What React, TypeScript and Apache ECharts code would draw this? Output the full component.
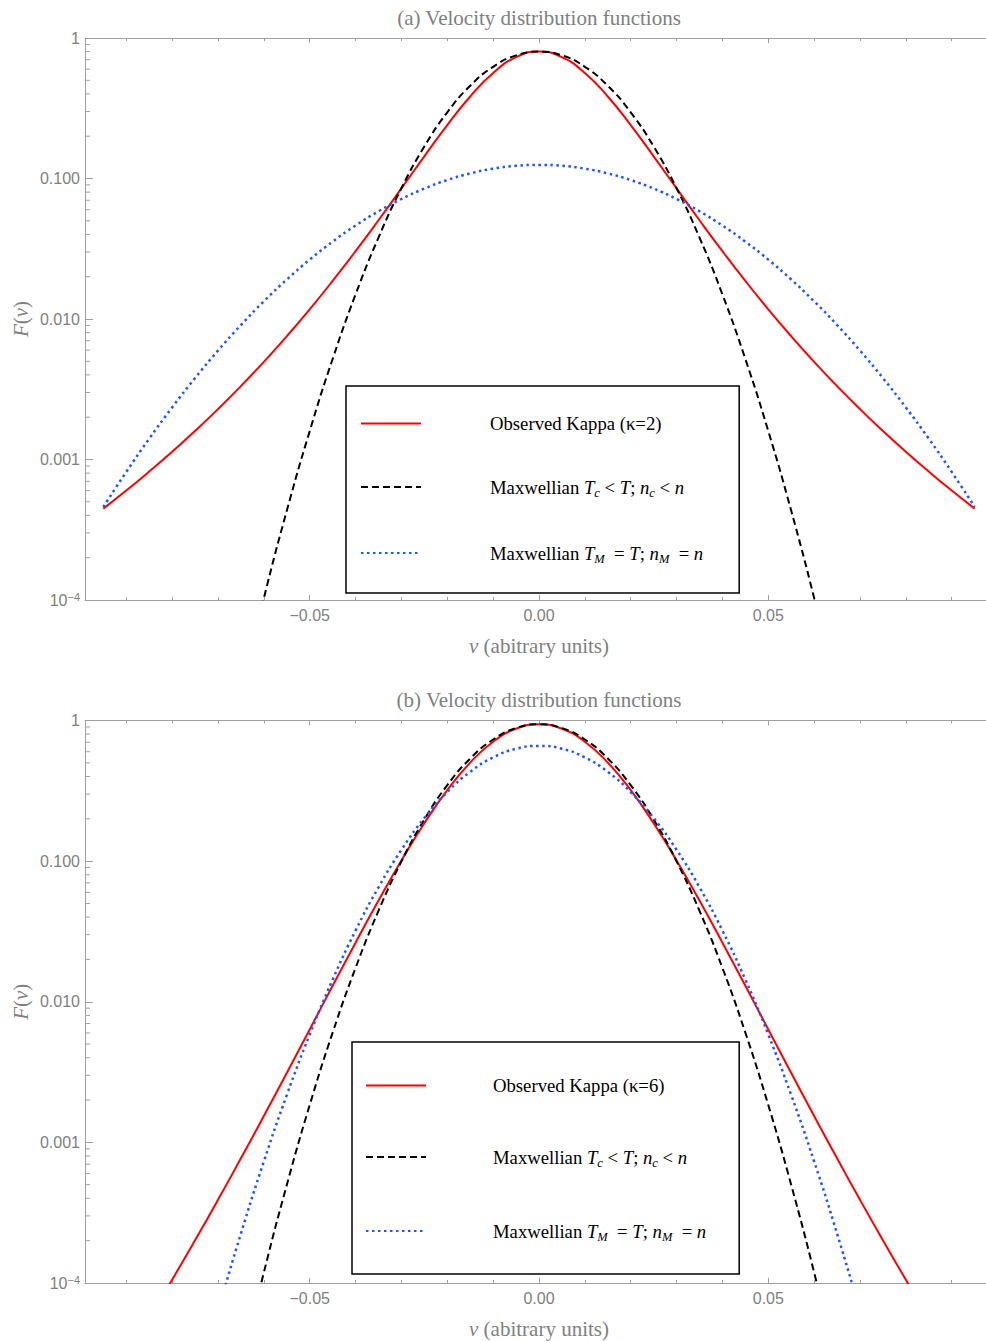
import React, { useEffect, useRef } from 'react';
import * as echarts from 'echarts';

// ---------- axis ranges & ticks ----------
const X_MIN = -0.099;
const X_MAX = 0.099;
const X_TICK_VALUES = [-0.05, 0, 0.05];
const X_TICK_LABELS = ['\u22120.05', '0.00', '0.05'];
const Y_MIN = 1e-4;
const Y_MAX = 1;
const Y_TICK_VALUES = [1e-4, 1e-3, 1e-2, 1e-1, 1];
const Y_TICK_LABELS = ['{m|10}{p|\u22124}', '0.001', '0.010', '0.100', '1'];
const Y_MINOR_MULTIPLIERS = [2, 3, 4, 5, 6, 7, 8, 9];
const Y_MINOR_DECADES = [1e-4, 1e-3, 1e-2, 1e-1];

// ---------- titles / names ----------
const TITLE_A = '(a) Velocity distribution functions';
const TITLE_B = '(b) Velocity distribution functions';
const X_NAME = '{i|v} (abitrary units)';
const Y_NAME = '{i|F}({i|v})';
const N_K2 = 'Observed Kappa (\u03ba=2)';
const N_K6 = 'Observed Kappa (\u03ba=6)';
const N_MC = 'Maxwellian Tc < T; nc < n';
const N_MM = 'Maxwellian TM = T; nM = n';

// ---------- panel (a) data ----------
const V_A_WIDE = [-0.095, -0.09, -0.085, -0.08, -0.075, -0.07, -0.065, -0.06, -0.055, -0.05, -0.045, -0.04, -0.035, -0.03, -0.025, -0.02, -0.015, -0.01, -0.005, 0,
  0.005, 0.01, 0.015, 0.02, 0.025, 0.03, 0.035, 0.04, 0.045, 0.05, 0.055, 0.06, 0.065, 0.07, 0.075, 0.08, 0.085, 0.09, 0.095];
const KAPPA_A = [0.000447, 0.000601, 0.00082, 0.001134, 0.001596, 0.002284, 0.003331, 0.004957, 0.007538, 0.01172, 0.01866, 0.03037, 0.05045, 0.08503, 0.1439, 0.24, 0.3835, 0.5642, 0.7303, 0.8,
  0.7303, 0.5642, 0.3835, 0.24, 0.1439, 0.08503, 0.05045, 0.03037, 0.01866, 0.01172, 0.007538, 0.004957, 0.003331, 0.002284, 0.001596, 0.001134, 0.00082, 0.000601, 0.000447];
const MAXW_M_A = [0.00046, 0.000816, 0.001406, 0.002347, 0.003798, 0.005958, 0.00906, 0.01336, 0.0191, 0.02646, 0.03554, 0.04627, 0.05841, 0.07147, 0.08479, 0.0975, 0.1087, 0.1175, 0.1231, 0.125,
  0.1231, 0.1175, 0.1087, 0.0975, 0.08479, 0.07147, 0.05841, 0.04627, 0.03554, 0.02646, 0.0191, 0.01336, 0.00906, 0.005958, 0.003798, 0.002347, 0.001406, 0.000816, 0.00046];
const V_A_CORE = [-0.065, -0.06, -0.055, -0.05, -0.045, -0.04, -0.035, -0.03, -0.025, -0.02, -0.015, -0.01, -0.005, 0,
  0.005, 0.01, 0.015, 0.02, 0.025, 0.03, 0.035, 0.04, 0.045, 0.05, 0.055, 0.06, 0.065];
const MAXW_C_A = [0.0000218, 0.0001032, 0.0004315, 0.001593, 0.005192, 0.01495, 0.03799, 0.08527, 0.169, 0.2958, 0.4571, 0.6238, 0.7518, 0.8,
  0.7518, 0.6238, 0.4571, 0.2958, 0.169, 0.08527, 0.03799, 0.01495, 0.005192, 0.001593, 0.0004315, 0.0001032, 0.0000218];

// ---------- panel (b) data ----------
const V_B_KAPPA = [-0.085, -0.08, -0.075, -0.07, -0.065, -0.06, -0.055, -0.05, -0.045, -0.04, -0.035, -0.03, -0.025, -0.02, -0.015, -0.01, -0.005, 0,
  0.005, 0.01, 0.015, 0.02, 0.025, 0.03, 0.035, 0.04, 0.045, 0.05, 0.055, 0.06, 0.065, 0.07, 0.075, 0.08, 0.085];
const KAPPA_B = [0.0000563, 0.0001055, 0.0002012, 0.0003903, 0.0007698, 0.00154, 0.003118, 0.006356, 0.01298, 0.02631, 0.05241, 0.1012, 0.186, 0.3195, 0.502, 0.7063, 0.8742, 0.94,
  0.8742, 0.7063, 0.502, 0.3195, 0.186, 0.1012, 0.05241, 0.02631, 0.01298, 0.006356, 0.003118, 0.00154, 0.0007698, 0.0003903, 0.0002012, 0.0001055, 0.0000563];
const V_B_MAXW_M = [-0.075, -0.07, -0.065, -0.06, -0.055, -0.05, -0.045, -0.04, -0.035, -0.03, -0.025, -0.02, -0.015, -0.01, -0.005, 0,
  0.005, 0.01, 0.015, 0.02, 0.025, 0.03, 0.035, 0.04, 0.045, 0.05, 0.055, 0.06, 0.065, 0.07, 0.075];
const MAXW_M_B = [0.0000159, 0.0000626, 0.0002243, 0.0007317, 0.002168, 0.005849, 0.01436, 0.03206, 0.06513, 0.1204, 0.2025, 0.3099, 0.4314, 0.5463, 0.6295, 0.66,
  0.6295, 0.5463, 0.4314, 0.3099, 0.2025, 0.1204, 0.06513, 0.03206, 0.01436, 0.005849, 0.002168, 0.0007317, 0.0002243, 0.0000626, 0.0000159];
const V_B_CORE = [-0.065, -0.06, -0.055, -0.05, -0.045, -0.04, -0.035, -0.03, -0.025, -0.02, -0.015, -0.01, -0.005, 0,
  0.005, 0.01, 0.015, 0.02, 0.025, 0.03, 0.035, 0.04, 0.045, 0.05, 0.055, 0.06, 0.065];
const MAXW_C_B = [0.000025, 0.0001186, 0.0004977, 0.001843, 0.006026, 0.01739, 0.0443, 0.09962, 0.1978, 0.3467, 0.5364, 0.7325, 0.8832, 0.94,
  0.8832, 0.7325, 0.5364, 0.3467, 0.1978, 0.09962, 0.0443, 0.01739, 0.006026, 0.001843, 0.0004977, 0.0001186, 0.000025];

// ---------- styles ----------
const SERIF = '"Liberation Serif", "Times New Roman", Times, serif';
const SANS = '"Liberation Sans", Arial, Helvetica, sans-serif';
const AXIS = '#a0a0a0';
const GRAY_TEXT = '#808080';
const RED = '#ff0000';
const BLACK = '#000000';
const BLUE = '#1f55ff';
const LEG_FS = 18.7;

const pair = (xs: number[], ys: number[]) => xs.map((x, i) => [x, ys[i]]);

const xFmt = (v: number) => {
  const i = X_TICK_VALUES.findIndex((t) => Math.abs(t - v) < 1e-6);
  return i >= 0 ? X_TICK_LABELS[i] : '';
};
const yFmt = (v: number) => {
  const i = Y_TICK_VALUES.findIndex((t) => Math.abs(Math.log10(t) - Math.log10(v)) < 1e-6);
  return i >= 0 ? Y_TICK_LABELS[i] : '';
};

const Y_MINOR = Y_MINOR_DECADES.flatMap((d) => Y_MINOR_MULTIPLIERS.map((m) => m * d));

const legendText: Record<string, string> = {
  [N_K2]: '{g|\u00a0}{r|Observed Kappa (\u03ba=2)}',
  [N_K6]: '{g|\u00a0}{r|Observed Kappa (\u03ba=6)}',
  [N_MC]: '{g|\u00a0}{r|Maxwellian }{i|T}{s|c}{r| < }{i|T}{r|; }{i|n}{s|c}{r| < }{i|n}',
  [N_MM]: '{g|\u00a0}{r|Maxwellian }{i|T}{s|M}{r|  = }{i|T}{r|; }{i|n}{s|M}{r|  = }{i|n}',
};

const legendRich = (gap: number) => ({
  g: { width: gap, fontSize: LEG_FS, lineHeight: 24, fontFamily: SERIF },
  r: { fontFamily: SERIF, fontSize: LEG_FS, lineHeight: 24, color: '#000' },
  i: { fontFamily: SERIF, fontSize: LEG_FS, lineHeight: 24, color: '#000', fontStyle: 'italic' },
  s: { fontFamily: SERIF, fontSize: 12.5, lineHeight: 12, color: '#000', fontStyle: 'italic', verticalAlign: 'bottom' },
});

const nameStyle = {
  fontFamily: SERIF,
  fontSize: 21,
  color: GRAY_TEXT,
  rich: {
    i: { fontFamily: SERIF, fontSize: 21, color: GRAY_TEXT, fontStyle: 'italic' },
  },
};

const mkXAxis = (gridIndex: number, position: 'bottom' | 'top', extra: any) => ({
  type: 'value',
  gridIndex,
  position,
  min: X_MIN,
  max: X_MAX,
  splitNumber: 4,
  nameMoveOverlap: false,
  axisLine: { show: true, onZero: false, lineStyle: { color: AXIS, width: 1 } },
  axisTick: { show: true, inside: true, length: 5, lineStyle: { color: AXIS, width: 1 } },
  minorTick: { show: true, splitNumber: 5, length: 3, lineStyle: { color: AXIS, width: 1 } },
  splitLine: { show: false },
  minorSplitLine: { show: false },
  axisPointer: { show: false },
  axisLabel:
    position === 'bottom'
      ? { show: true, margin: 7, color: GRAY_TEXT, fontFamily: SANS, fontSize: 16, formatter: xFmt }
      : { show: false },
  ...extra,
});

const mkYAxis = (gridIndex: number) => ({
  type: 'log',
  logBase: 10,
  gridIndex,
  position: 'left',
  min: Y_MIN,
  max: Y_MAX,
  name: Y_NAME,
  nameLocation: 'middle',
  nameRotate: 90,
  nameGap: 54,
  nameMoveOverlap: false,
  nameTextStyle: nameStyle,
  axisLine: { show: true, onZero: false, lineStyle: { color: AXIS, width: 1 } },
  axisTick: { show: true, inside: true, length: 8, lineStyle: { color: AXIS, width: 1 } },
  minorTick: { show: false },
  splitLine: { show: false },
  axisPointer: { show: false },
  axisLabel: {
    show: true,
    margin: 5,
    color: GRAY_TEXT,
    fontFamily: SANS,
    fontSize: 16,
    formatter: yFmt,
    rich: {
      m: { fontFamily: SANS, fontSize: 16, lineHeight: 18, color: GRAY_TEXT },
      p: { fontFamily: SANS, fontSize: 11, lineHeight: 11, color: GRAY_TEXT, verticalAlign: 'top' },
    },
  },
});

const minorTickSeries = (xAxisIndex: number, yAxisIndex: number) => ({
  type: 'custom',
  xAxisIndex,
  yAxisIndex,
  silent: true,
  clip: false,
  z: 5,
  data: Y_MINOR.map((v) => [X_MIN, v]),
  renderItem: (_params: any, api: any) => {
    const p = api.coord([X_MIN, api.value(1)]);
    return {
      type: 'line',
      shape: { x1: p[0], y1: p[1], x2: p[0] + 5, y2: p[1] },
      style: { stroke: AXIS, lineWidth: 1 },
    };
  },
});

const lineSeries = (name: string, xAxisIndex: number, yAxisIndex: number, data: number[][], color: string, type: any, width: number) => ({
  type: 'line',
  name,
  xAxisIndex,
  yAxisIndex,
  data,
  smooth: true,
  symbol: 'none',
  showSymbol: false,
  clip: true,
  lineStyle: { color, width, type },
  itemStyle: { color },
  emphasis: { disabled: true },
});

const mkLegend = (names: string[], left: number, top: number, gapBetween: number, padding: number[], textGap: number) => ({
  show: true,
  orient: 'vertical',
  left,
  top,
  data: names,
  itemWidth: 60,
  itemHeight: 20,
  itemGap: gapBetween,
  padding,
  borderColor: '#000',
  borderWidth: 1.5,
  borderRadius: 0,
  backgroundColor: '#ffffff',
  selectedMode: false,
  itemStyle: { opacity: 0 },
  formatter: (n: string) => legendText[n] || n,
  textStyle: { fontFamily: SERIF, fontSize: LEG_FS, color: '#000', rich: legendRich(textGap) },
});

export default function App() {
  const ref = useRef<HTMLDivElement>(null);

  useEffect(() => {
    document.body.style.margin = '0';
    if (!ref.current) return;
    const chart = echarts.init(ref.current, null, { renderer: 'svg' });
    const option: any = {
      animation: false,
      backgroundColor: '#ffffff',
      tooltip: { show: false },
      grid: [
        { left: 85, top: 38, width: 908, height: 562, containLabel: false, outerBoundsMode: 'none' },
        { left: 85, top: 720.5, width: 908, height: 562.5, containLabel: false, outerBoundsMode: 'none' },
      ],
      xAxis: [
        mkXAxis(0, 'bottom', { name: X_NAME, nameLocation: 'middle', nameGap: 35, nameTextStyle: nameStyle }),
        mkXAxis(0, 'top', { name: TITLE_A, nameLocation: 'middle', nameGap: 10, nameTextStyle: nameStyle }),
        mkXAxis(1, 'bottom', { name: X_NAME, nameLocation: 'middle', nameGap: 35, nameTextStyle: nameStyle }),
        mkXAxis(1, 'top', { name: TITLE_B, nameLocation: 'middle', nameGap: 10, nameTextStyle: nameStyle }),
      ],
      yAxis: [mkYAxis(0), mkYAxis(1)],
      legend: [
        mkLegend([N_K2, N_MC, N_MM], 346, 386, 44.5, [28, 36, 28, 14], 64),
        mkLegend([N_K6, N_MC, N_MM], 352, 1042, 52.5, [34, 33, 31, 13], 62),
      ],
      series: [
        lineSeries(N_K2, 0, 0, pair(V_A_WIDE, KAPPA_A), RED, 'solid', 2),
        lineSeries(N_MC, 0, 0, pair(V_A_CORE, MAXW_C_A), BLACK, [7, 4], 2),
        lineSeries(N_MM, 0, 0, pair(V_A_WIDE, MAXW_M_A), BLUE, [2.5, 3.5], 2.5),
        lineSeries(N_K6, 2, 1, pair(V_B_KAPPA, KAPPA_B), RED, 'solid', 2),
        lineSeries(N_MC, 2, 1, pair(V_B_CORE, MAXW_C_B), BLACK, [7, 4], 2),
        lineSeries(N_MM, 2, 1, pair(V_B_MAXW_M, MAXW_M_B), BLUE, [2.5, 3.5], 2.5),
        minorTickSeries(0, 0),
        minorTickSeries(2, 1),
      ],
    };
    chart.setOption(option);
    return () => chart.dispose();
  }, []);

  return (
    <div style={{ width: 986, height: 1341, overflow: 'hidden', background: '#fff' }}>
      <div ref={ref} style={{ width: 1000, height: 1341 }} />
    </div>
  );
}
